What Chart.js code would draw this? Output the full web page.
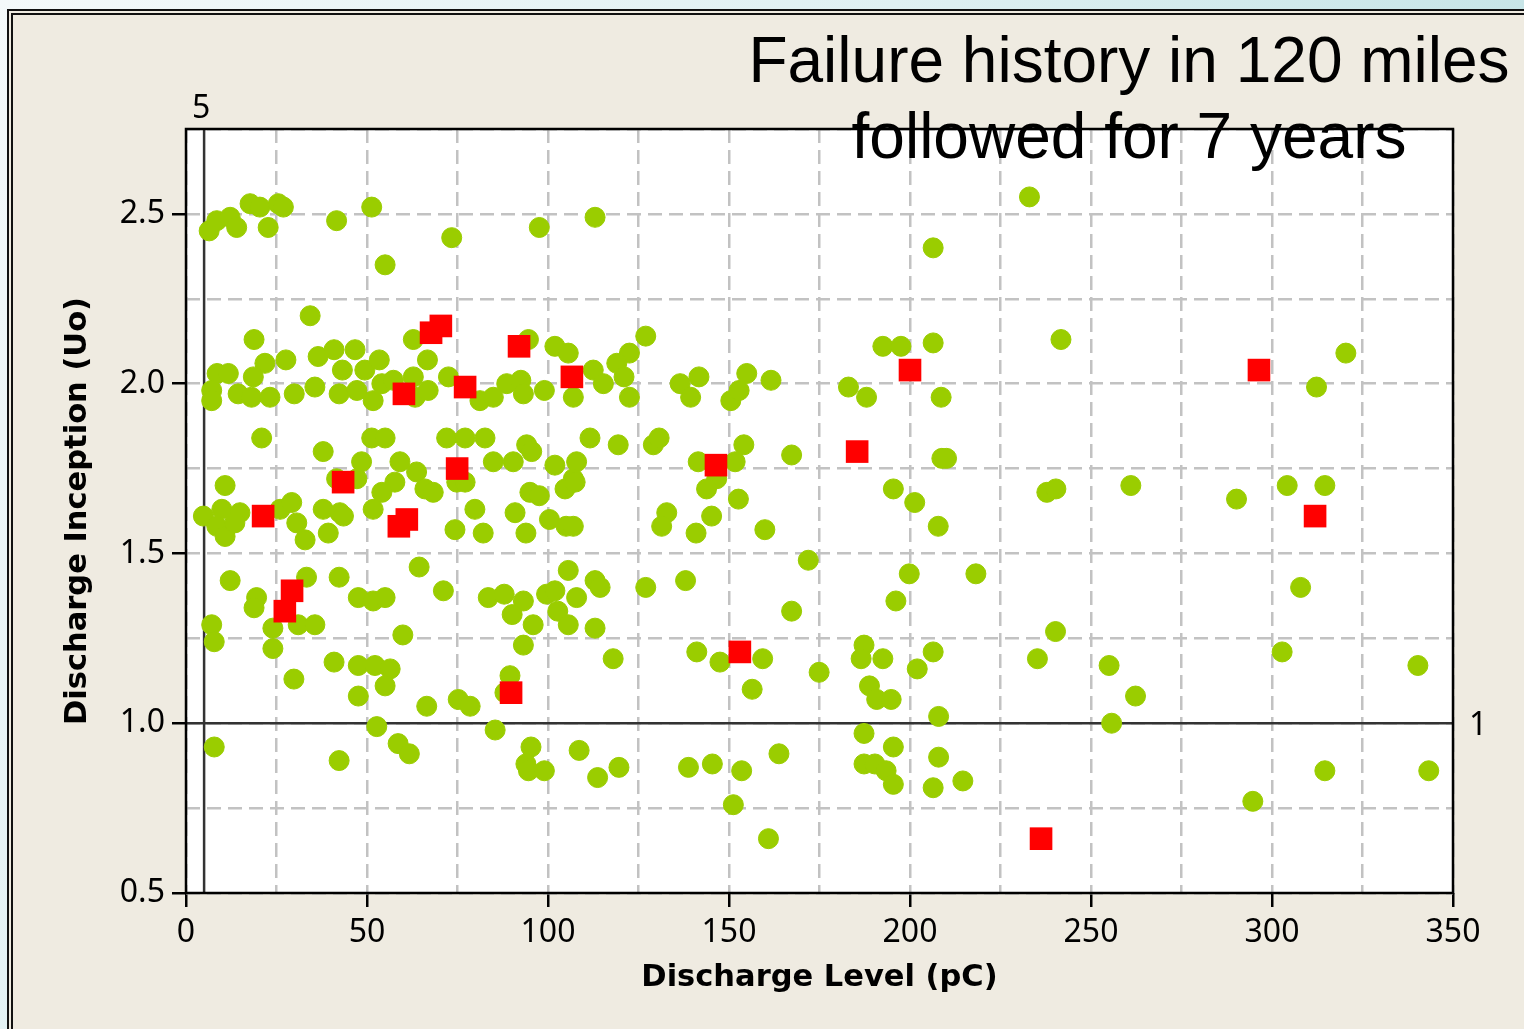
<!DOCTYPE html>
<html>
<head>
<meta charset="utf-8">
<title>Failure history</title>
<script src="https://cdn.jsdelivr.net/npm/chart.js@4.4.0/dist/chart.umd.min.js"></script>
<style>
    html, body { margin: 0; padding: 0; }
    body {
        width: 1524px; height: 1029px; overflow: hidden; position: relative;
        background: linear-gradient(125deg, #f4f9fa 0%, #dff0f2 40%, #acd8db 100%);
    }
    #frame {
        position: absolute; left: 7px; top: 9px; width: 1560px; height: 1060px;
        box-sizing: border-box; border: 6px double #111; background: #efebe1;
    }
    #chart { position: absolute; left: 0; top: 0; }
</style>
</head>
<body>
<div id="frame"></div>
<canvas id="chart" width="1524" height="1029"></canvas>
<script>
// cables that did not fail (green)
const passLevel = [
    6.4, 8.5, 12.2, 14.0, 17.7, 20.4, 22.7, 25.5, 26.9, 41.6, 51.3, 55.0, 73.4, 34.3, 18.8, 21.8, 27.6,
    8.6, 11.7, 18.6, 7.1, 7.1, 14.4, 18.1, 23.2, 29.9, 35.6, 36.5, 40.9, 43.2, 46.7, 42.3, 47.2, 49.4,
    51.7, 53.4, 54.1, 57.3, 62.8, 66.7, 62.8, 63.3, 66.9, 72.5, 81.2, 84.9, 20.9, 51.3, 55.0, 72.0,
    77.1, 82.6, 37.9, 48.5, 59.1, 63.7, 84.9, 10.8, 41.6, 47.2, 57.7, 54.1, 51.7, 66.0, 68.3, 74.8,
    77.1, 79.8, 74.3, 82.1, 4.8, 9.9, 14.9, 8.5, 10.8, 13.5, 26.0, 29.2, 30.6, 32.9, 37.9, 39.3, 42.5,
    43.5, 12.2, 19.5, 18.8, 7.1, 7.8, 24.0, 24.0, 31.0, 35.6, 33.3, 42.3, 47.6, 51.7, 55.0, 59.9, 64.4,
    71.1, 83.5, 40.9, 47.6, 52.2, 56.4, 55.0, 47.6, 29.8, 66.5, 75.2, 78.5, 52.7, 85.4, 7.8, 42.3,
    58.6, 61.7, 97.6, 113.0, 94.6, 101.9, 105.6, 127.0, 122.5, 119.0, 121.0, 112.5, 115.3, 88.6, 92.5,
    93.2, 99.0, 107.0, 122.5, 136.5, 141.7, 139.4, 150.5, 152.8, 154.9, 161.6, 90.4, 94.1, 95.5, 101.9,
    107.9, 111.6, 119.4, 129.1, 130.7, 141.5, 151.7, 154.1, 167.3, 107.0, 146.6, 143.8, 152.6, 145.2,
    140.9, 132.8, 131.4, 159.9, 95.0, 97.6, 104.7, 107.5, 90.9, 93.9, 100.4, 105.0, 107.0, 105.6, 113.0,
    114.4, 127.0, 138.0, 87.9, 93.2, 90.1, 95.9, 99.6, 101.9, 102.7, 107.9, 105.6, 113.0, 93.2, 118.0,
    167.3, 89.5, 88.1, 141.1, 147.5, 159.3, 156.4, 95.3, 93.9, 94.6, 99.0, 108.6, 113.7, 119.6, 138.8,
    145.4, 153.5, 163.8, 151.2, 160.9, 233.0, 206.4, 192.5, 197.5, 206.4, 241.7, 183.0, 188.0, 208.6,
    208.8, 210.1, 195.4, 201.3, 237.8, 240.3, 207.8, 171.9, 199.8, 218.2, 196.1, 240.2, 187.3, 186.5,
    192.5, 174.9, 202.0, 206.4, 235.2, 255.0, 188.8, 190.8, 194.8, 207.9, 255.7, 187.3, 195.4, 207.9,
    187.3, 190.3, 193.4, 195.4, 206.4, 214.6, 320.4, 312.3, 261.0, 290.2, 304.2, 314.6, 307.9, 262.3,
    302.8, 340.3, 314.6, 343.3, 294.7
];
const passInception = [
    2.45, 2.48, 2.49, 2.46, 2.53, 2.52, 2.46, 2.53, 2.52, 2.48, 2.52, 2.35, 2.43, 2.20, 2.13, 2.06, 2.07,
    2.03, 2.03, 2.02, 1.98, 1.95, 1.97, 1.96, 1.96, 1.97, 1.99, 2.08, 2.10, 2.04, 2.10, 1.97, 1.98, 2.04,
    1.95, 2.07, 2.00, 2.01, 2.13, 2.07, 2.02, 1.96, 1.98, 2.02, 1.95, 1.96, 1.84, 1.84, 1.84, 1.84,
    1.84, 1.84, 1.80, 1.77, 1.77, 1.74, 1.77, 1.70, 1.72, 1.72, 1.71, 1.68, 1.63, 1.69, 1.68, 1.71,
    1.71, 1.63, 1.57, 1.56, 1.61, 1.63, 1.62, 1.58, 1.55, 1.59, 1.63, 1.65, 1.59, 1.54, 1.63, 1.56, 1.62,
    1.61, 1.42, 1.37, 1.34, 1.29, 1.24, 1.28, 1.22, 1.29, 1.29, 1.43, 1.43, 1.37, 1.36, 1.37, 1.26, 1.46,
    1.39, 1.37, 1.18, 1.17, 1.17, 1.16, 1.11, 1.08, 1.13, 1.05, 1.07, 1.05, 0.99, 0.98, 0.93, 0.89,
    0.94, 0.91, 2.46, 2.49, 2.13, 2.11, 2.09, 2.14, 2.09, 2.06, 2.02, 2.04, 2.00, 2.00, 2.01,
    1.97, 1.98, 1.96, 1.96, 2.00, 2.02, 1.96, 1.95, 1.98, 2.03, 2.01, 1.77, 1.82, 1.80, 1.76,
    1.77, 1.84, 1.82, 1.82, 1.84, 1.77, 1.77, 1.82, 1.79, 1.72, 1.72, 1.69, 1.66, 1.61,
    1.56, 1.62, 1.58, 1.57, 1.68, 1.67, 1.69, 1.71, 1.62, 1.56, 1.60, 1.58, 1.58, 1.45, 1.42,
    1.40, 1.40, 1.42, 1.38, 1.36, 1.32, 1.29, 1.38, 1.39, 1.33, 1.37, 1.29, 1.28, 1.23, 1.19,
    1.33, 1.14, 1.09, 1.21, 1.18, 1.19, 1.10, 0.93, 0.88, 0.86, 0.86, 0.92, 0.84, 0.87, 0.87,
    0.88, 0.86, 0.91, 0.76, 0.66, 2.55, 2.40, 2.11, 2.11, 2.12, 2.13, 1.99, 1.96, 1.96,
    1.78, 1.78, 1.69, 1.65, 1.68, 1.69, 1.58, 1.48, 1.44, 1.44, 1.36, 1.27, 1.23, 1.19,
    1.19, 1.15, 1.16, 1.21, 1.19, 1.17, 1.11, 1.07, 1.07, 1.02, 1.00, 0.97, 0.93, 0.90,
    0.88, 0.88, 0.86, 0.82, 0.81, 0.83, 2.09, 1.99, 1.70, 1.66, 1.70, 1.70, 1.40, 1.08,
    1.21, 1.17, 0.86, 0.86, 0.77
];

// cables that failed (red)
const failLevel = [21.3, 29.3, 27.3, 43.4, 58.8, 61.0, 60.2, 67.7, 70.4, 77.1, 74.9, 92.0, 89.8, 106.6,
    146.4, 153.0, 185.4, 200.0, 236.2, 296.4, 311.9];
const failInception = [1.61, 1.39, 1.33, 1.71, 1.58, 1.60, 1.97, 2.15, 2.17, 1.99, 1.75, 2.11, 1.09, 2.02,
    1.76, 1.21, 1.80, 2.04, 0.66, 2.04, 1.61];

const xTicks = [0, 50, 100, 150, 200, 250, 300, 350];
const yTicks = [0.5, 1.0, 1.5, 2.0, 2.5];
const refLevel = 5;
const refInception = 1;
const titleLines = ['Failure history in 120 miles', 'followed for 7 years'];

const tickFont = { family: 'Noto Sans', size: 32 };
const titleFont = { family: 'DejaVu Sans', size: 30.5, weight: 'bold' };

function isMajor(list, v) {
    return list.some(t => Math.abs(t - v) < 1e-6);
}

const decorations = {
    id: 'decorations',
    beforeDraw(chart) {
        const {ctx, chartArea: a} = chart;
        ctx.save();
        ctx.fillStyle = '#ffffff';
        ctx.fillRect(a.left, a.top, a.right - a.left, a.bottom - a.top);
        ctx.restore();
    },
    beforeDatasetsDraw(chart) {
        const {ctx, chartArea: a, scales} = chart;
        const px = scales.x.getPixelForValue(refLevel);
        const py = scales.y.getPixelForValue(refInception);
        ctx.save();
        ctx.strokeStyle = '#333333';
        ctx.lineWidth = 2.5;
        ctx.beginPath();
        ctx.moveTo(px, a.top);
        ctx.lineTo(px, a.bottom);
        ctx.moveTo(a.left, py);
        ctx.lineTo(a.right, py);
        ctx.stroke();
        ctx.restore();
    },
    afterDraw(chart) {
        const {ctx, chartArea: a, scales} = chart;
        ctx.save();
        ctx.strokeStyle = '#000000';
        ctx.lineWidth = 2.5;
        ctx.strokeRect(a.left, a.top, a.right - a.left, a.bottom - a.top);

        // reference line labels
        ctx.fillStyle = '#000000';
        ctx.font = '32px "Noto Sans"';
        ctx.textBaseline = 'alphabetic';
        ctx.textAlign = 'center';
        ctx.fillText(String(refLevel), scales.x.getPixelForValue(refLevel) - 3, a.top - 11);
        ctx.textAlign = 'left';
        ctx.fillText(String(refInception), a.right + 16, scales.y.getPixelForValue(refInception) + 12);

        // slide title
        ctx.font = '64px "Liberation Sans"';
        ctx.textAlign = 'center';
        ctx.fillText(titleLines[0], 1129, 82);
        ctx.fillText(titleLines[1], 1129, 158);
        ctx.restore();
    }
};

const ctx = document.getElementById('chart');

new Chart(ctx, {
    type: 'scatter',
    plugins: [decorations],
    data: {
        datasets: [
            {
                label: 'Failed',
                order: 0,
                data: failLevel.map((v, i) => ({x: v, y: failInception[i]})),
                pointStyle: 'rect',
                pointRadius: 16,
                pointBackgroundColor: '#ff0000',
                pointBorderColor: '#ff0000',
                pointBorderWidth: 0,
            },
            {
                label: 'No failure',
                order: 1,
                data: passLevel.map((v, i) => ({x: v, y: passInception[i]})),
                pointStyle: 'circle',
                pointRadius: 10,
                pointBackgroundColor: '#9acd00',
                pointBorderColor: '#9acd00',
                pointBorderWidth: 1,
            }
        ]
    },
    options: {
        responsive: false,
        animation: false,
        devicePixelRatio: 1,
        layout: { padding: { left: 0, top: 129, right: 71, bottom: 0 } },
        plugins: {
            legend: { display: false },
            tooltip: { enabled: false },
            title: { display: false }
        },
        scales: {
            x: {
                type: 'linear',
                min: 0,
                max: 350,
                afterFit(scale) { scale.height = 136; },
                ticks: {
                    stepSize: 25,
                    autoSkip: false,
                    maxRotation: 0,
                    padding: 7,
                    color: '#000',
                    font: tickFont,
                    callback: v => isMajor(xTicks, v) ? String(v) : ''
                },
                grid: {
                    color: '#c2c2c2',
                    lineWidth: 2.5,
                    tickLength: 14,
                    tickWidth: 2.5,
                    tickColor: c => (c.tick && isMajor(xTicks, c.tick.value)) ? '#000' : 'rgba(0,0,0,0)'
                },
                border: { display: false, dash: [14, 7] },
                title: {
                    display: true,
                    text: 'Discharge Level (pC)',
                    color: '#000',
                    font: titleFont,
                    padding: { top: 0, bottom: 33 }
                }
            },
            y: {
                type: 'linear',
                min: 0.5,
                max: 2.75,
                afterFit(scale) { scale.width = 186; },
                ticks: {
                    stepSize: 0.25,
                    autoSkip: false,
                    padding: 7,
                    color: '#000',
                    font: tickFont,
                    callback: v => isMajor(yTicks, v) ? v.toFixed(1) : ''
                },
                grid: {
                    color: '#c2c2c2',
                    lineWidth: 2.5,
                    tickLength: 14,
                    tickWidth: 2.5,
                    tickColor: c => (c.tick && isMajor(yTicks, c.tick.value)) ? '#000' : 'rgba(0,0,0,0)'
                },
                border: { display: false, dash: [14, 7] },
                title: {
                    display: true,
                    text: 'Discharge Inception (Uo)',
                    color: '#000',
                    font: titleFont,
                    padding: { top: 60, bottom: 0 }
                }
            }
        }
    }
});
</script>
</body>
</html>
